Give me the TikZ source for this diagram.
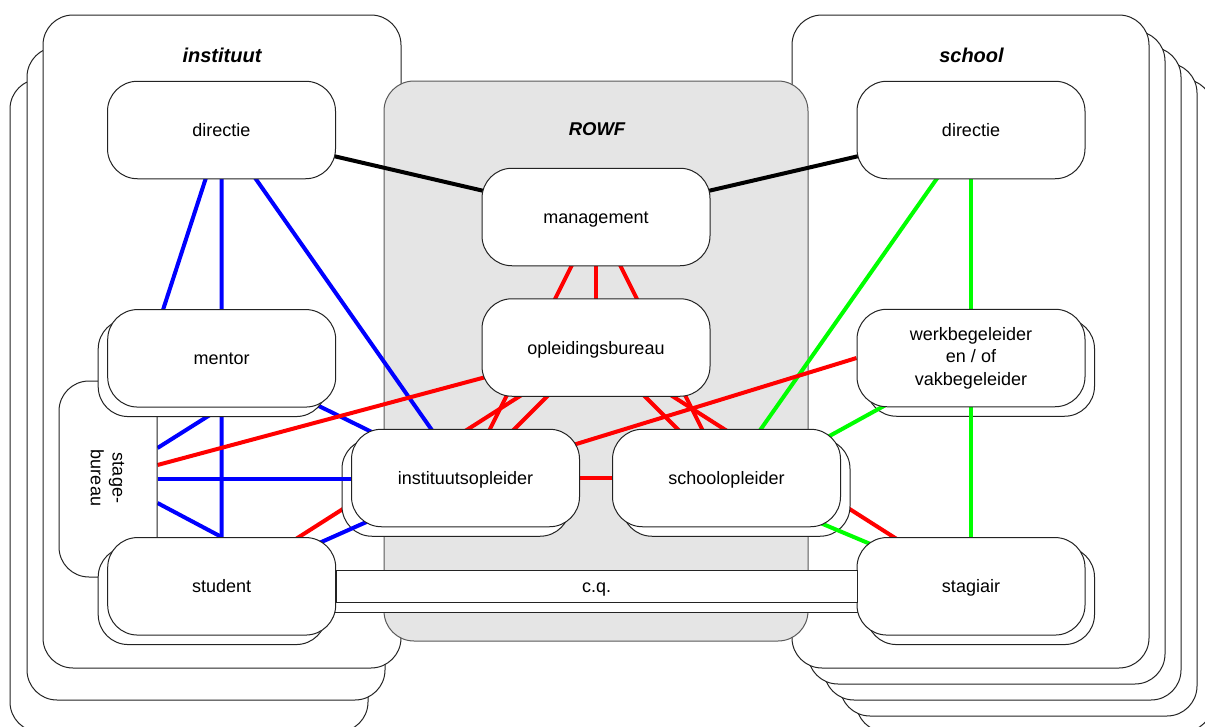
\documentclass[tikz,border=0pt]{standalone}
\usepackage{fontspec}
\setmainfont{Liberation Sans}
\usetikzlibrary{calc}
\definecolor{cblue}{RGB}{0,0,255}
\definecolor{cred}{RGB}{255,0,0}
\definecolor{cgreen}{RGB}{0,255,0}
\definecolor{rowfgray}{RGB}{229,229,229}
\definecolor{edgec}{RGB}{35,35,35}
\pgfdeclarelayer{bgc}
\pgfdeclarelayer{linesa}
\pgfdeclarelayer{stagel}
\pgfdeclarelayer{backs}
\pgfdeclarelayer{linesb}
\pgfsetlayers{bgc,linesa,stagel,backs,linesb,main}
\begin{document}
\begin{tikzpicture}[x=1pt,y=-1pt,
  container/.style={draw=edgec, line width=1pt, fill=white, rounded corners=30pt},
  rowfbox/.style={draw=black!65, line width=1pt, fill=rowfgray, rounded corners=30pt},
  box/.style={draw=edgec, line width=1pt, fill=white, rounded corners=30pt,
    minimum width=228pt, minimum height=97.5pt, inner sep=0pt, align=center,
    font=\fontsize{18}{22.5}\selectfont},
  onebox/.style={box, text height=13pt, text depth=0pt},
  stagebox/.style={draw=edgec, line width=1pt, fill=white, rounded corners=30pt,
    minimum width=98pt, minimum height=196pt, inner sep=0pt},
  bandbox/.style={draw=edgec, line width=1pt, fill=white, minimum width=521pt,
    minimum height=32pt, inner sep=0pt, font=\fontsize{18}{22.5}\selectfont,
    text height=13pt, text depth=0pt},
  conn/.style={line width=4pt},
  bl/.style={conn, draw=cblue},
  rd/.style={conn, draw=cred},
  gr/.style={conn, draw=cgreen},
  bk/.style={conn, draw=black},
  title/.style={font=\fontsize{20}{24}\selectfont\bfseries\itshape, inner sep=0pt},
  lbl/.style={font=\fontsize{18}{21.6}\selectfont, align=center, inner sep=0pt}
]
\useasboundingbox (0,0) rectangle (1205,726);

% ---------- front boxes ----------
\node[onebox] (dirL) at (221.5,130) {directie};
\node[onebox] (dirR) at (971,130) {directie};
\node[onebox] (mgmt) at (596,217) {management};
\node[onebox] (opleid) at (596,347.5) {opleidingsbureau};
\node[onebox] (mentor) at (221.7,358.3) {mentor};
\node[onebox] (student) at (221.7,586.3) {student};
\node[onebox] (inst) at (465.5,478) {instituutsopleider};
\node[onebox] (school) at (726.5,478) {schoolopleider};
\node[box] (werk) at (971,358) {werkbegeleider\\en / of\\vakbegeleider};
\node[onebox] (stagiair) at (971,586.3) {stagiair};
\node[bandbox] (band) at (596.5,586) {c.q.};

% ---------- containers ----------
\begin{pgfonlayer}{bgc}
  \draw[container] (10,79) rectangle (368,732);
  \draw[container] (27,47) rectangle (385,700);
  \draw[container] (43,15) rectangle (401,668);
  \draw[container] (856,79) rectangle (1213,732);
  \draw[container] (840,63) rectangle (1197,716);
  \draw[container] (824,47) rectangle (1181,700);
  \draw[container] (808,31) rectangle (1165,684);
  \draw[container] (792,15) rectangle (1149,668);
  \draw[rowfbox] (384,81) rectangle (808,641);
  \node[title] (tinst) at (222,55) {instituut};
  \node[title] (tschool) at (971.5,55) {school};
  \node[title, font=\fontsize{18.5}{22}\selectfont\bfseries\itshape] (trowf) at (597,129) {ROWF};
\end{pgfonlayer}

% ---------- stage-bureau ----------
\begin{pgfonlayer}{stagel}
  \node[stagebox] (stage) at (108,479) {};
  \node[lbl, rotate=-90] (stagetext) at (107.5,478) {stage-\\bureau};
\end{pgfonlayer}

% ---------- shadow copies ----------
\begin{pgfonlayer}{backs}
  \node[box] (mentorB) at ($(mentor.center)+(-9.5,9.5)$) {};
  \node[box] (studentB) at ($(student.center)+(-9.5,9.5)$) {};
  \node[box] (instB) at ($(inst.center)+(-9.5,9.5)$) {};
  \node[box] (schoolB) at ($(school.center)+(9.5,9.5)$) {};
  \node[box] (werkB) at ($(werk.center)+(9.5,9.5)$) {};
  \node[box] (stagiairB) at ($(stagiair.center)+(9.5,9.5)$) {};
  \node[bandbox, minimum width=550pt] (bandB) at ($(band.center)+(0,10)$) {};
\end{pgfonlayer}

% ---------- connectors below the shadow copies ----------
\begin{pgfonlayer}{linesa}
  \draw[bk] (dirL.center) -- (mgmt.center);
  \draw[bk] (mgmt.center) -- (dirR.center);
  \draw[bl] (dirL.center) -- (stage.center);
  \draw[bl] (dirL.center) -- (student.center);
  \draw[bl] (dirL.center) -- (inst.center);
  \draw[bl] ($(stage.east)+(0,-31)$) -- (mentor.south);
  \draw[bl] ($(stage.east)+(0,24)$) -- (student.north);
  \draw[bl] (mentor.center) -- (inst.center);
  \draw[gr] (dirR.center) -- (school.center);
  \draw[rd] ($(stage.east)+(0,-14)$) -- (opleid.center);
  \draw[rd] (student.center) -- (opleid.center);
  \draw[rd] (mgmt.center) -- (inst.center);
  \draw[rd] (mgmt.center) -- (opleid.center);
  \draw[rd] (mgmt.center) -- (school.center);
  \draw[rd] (opleid.center) -- (inst.center);
  \draw[rd] (opleid.center) -- (school.center);
  \draw[rd] (opleid.center) -- (stagiair.center);
  \draw[rd] (inst.center) -- (werk.west);
  \draw[rd] (inst.center) -- (school.center);
\end{pgfonlayer}

% ---------- connectors above the shadow copies ----------
\begin{pgfonlayer}{linesb}
  \draw[bl] (stage.east) -- (stage.east -| inst.center);
  \draw[bl] (student.center) -- (inst.center);
  \draw[gr] (dirR.center) -- (stagiair.center);
  \draw[gr] (werk.center) -- (schoolB.center);
  \draw[gr] (schoolB.center) -- (stagiair.center);
\end{pgfonlayer}
\end{tikzpicture}
\end{document}
